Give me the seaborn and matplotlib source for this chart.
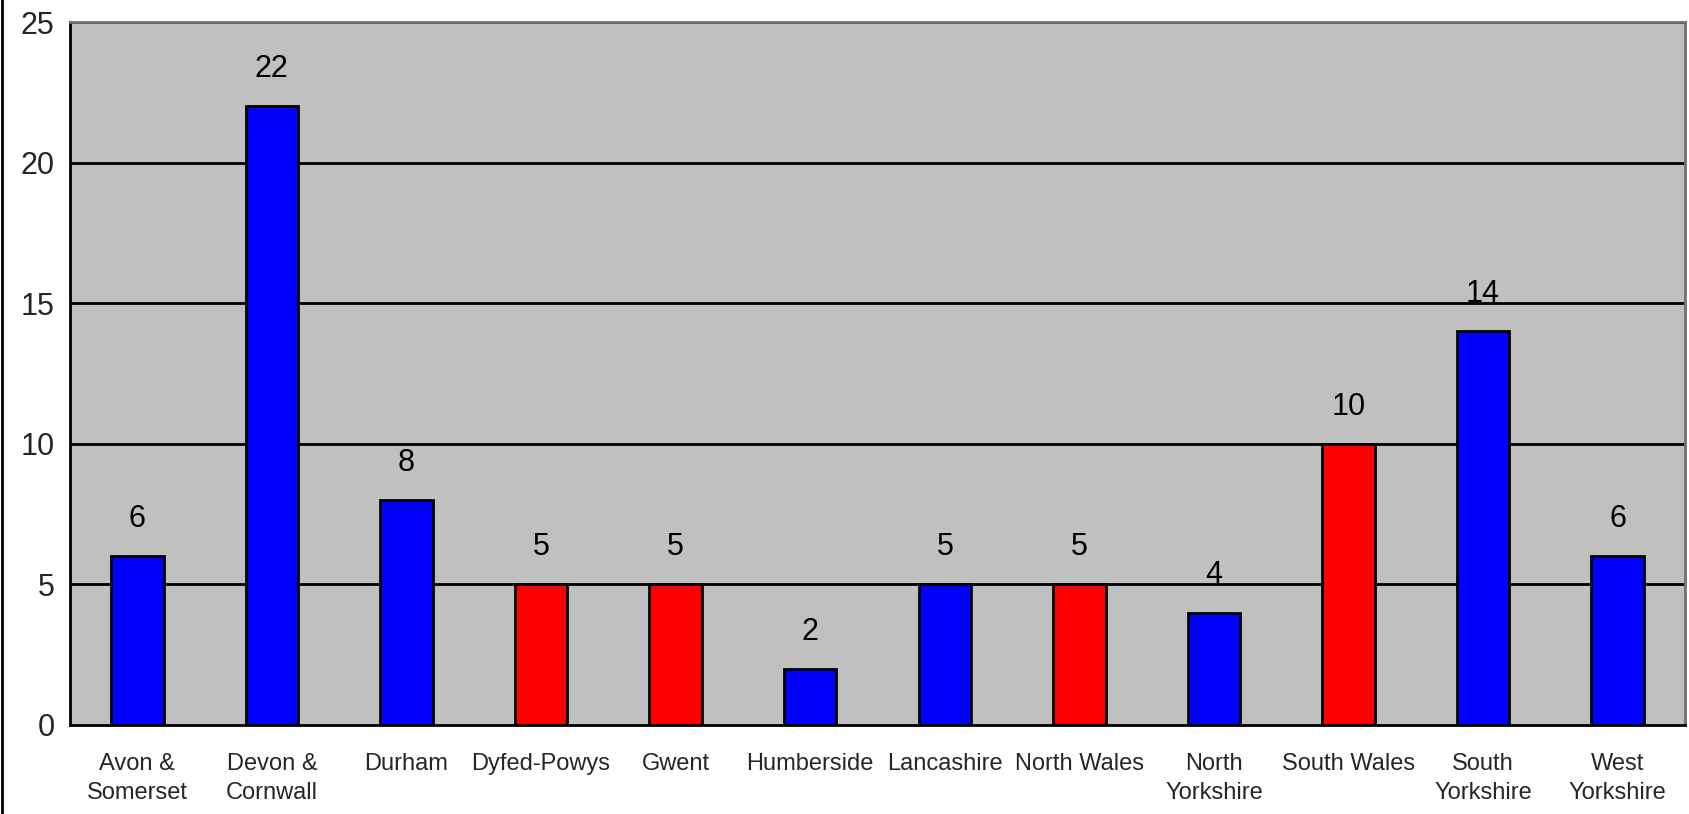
import matplotlib
matplotlib.use("Agg")
import matplotlib.pyplot as plt
from matplotlib.lines import Line2D
import seaborn as sns
import pandas as pd

# Data
forces = ["Avon &\nSomerset", "Devon &\nCornwall", "Durham", "Dyfed-Powys", "Gwent",
          "Humberside", "Lancashire", "North Wales", "North\nYorkshire", "South Wales",
          "South\nYorkshire", "West\nYorkshire"]
counts = [6, 22, 8, 5, 5, 2, 5, 5, 4, 10, 14, 6]
region = ["England", "England", "England", "Wales", "Wales", "England",
          "England", "Wales", "England", "Wales", "England", "England"]
yticks = [0, 5, 10, 15, 20, 25]

df = pd.DataFrame({"force": forces, "count": counts, "region": region})

sns.set_theme(style="white")
plt.rcParams["font.family"] = ["Liberation Sans Narrow", "Liberation Sans", "DejaVu Sans"]

fig = plt.figure(figsize=(16.9, 8.14), dpi=100)
ax = fig.add_axes([70 / 1690, 1 - 725 / 814, 1615 / 1690, 703 / 814])
ax.set_facecolor("#C0C0C0")

sns.barplot(data=df, x="force", y="count", hue="region",
            palette={"England": "#0000FF", "Wales": "#FF0000"}, saturation=1,
            dodge=False, width=0.39, edgecolor="black", linewidth=2,
            legend=False, ax=ax, zorder=3)

ax.set_ylim(0, 25)
ax.set_xlim(-0.5, len(forces) - 0.5)
ax.set_yticks(yticks)
ax.set_yticklabels([str(t) for t in yticks], fontsize=22)
for t in yticks[1:]:
    ax.axhline(t, color="black", lw=2, zorder=1)

# Category ticks sit at the boundaries between bars
ax.set_xticks(range(len(forces)))
ax.set_xticklabels(forces, fontsize=17, linespacing=1.4)
ax.tick_params(axis="x", length=0, pad=20)
ax.set_xticks([i - 0.5 for i in range(len(forces) + 1)], minor=True)
ax.tick_params(axis="x", which="minor", length=7, width=1.5, color="black", direction="out")
ax.tick_params(axis="y", length=5, width=1.5, color="black", direction="out", pad=6)
ax.set_xlabel("")
ax.set_ylabel("")

for side in ["left", "bottom"]:
    ax.spines[side].set_color("black")
    ax.spines[side].set_linewidth(2)
for side in ["top", "right"]:
    ax.spines[side].set_color("#707070")
    ax.spines[side].set_linewidth(2)

# Value labels above each bar
for i, v in enumerate(counts):
    ax.annotate(str(v), (i, v), xytext=(0, 16), textcoords="offset points",
                ha="center", va="bottom", fontsize=22, color="black")

# Frame edge on the left of the figure
fig.add_artist(Line2D([2 / 1690, 2 / 1690], [0, 1], color="black", lw=2,
                      transform=fig.transFigure))

fig.savefig("out.png", dpi=100, facecolor="white")
